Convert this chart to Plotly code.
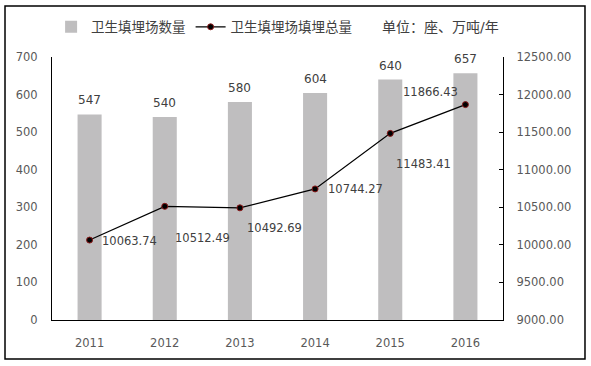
import plotly.graph_objects as go

years = ["2011", "2012", "2013", "2014", "2015", "2016"]
landfill_count = [547, 540, 580, 604, 640, 657]
landfill_volume = [10063.74, 10512.49, 10492.69, 10744.27, 11483.41, 11866.43]

count_name = "卫生填埋场数量"
volume_name = "卫生填埋场填埋总量"
unit_text = "单位：座、万吨/年"

# label offsets (pixels) for line labels
line_label_shift = [(40, -1), (38, -32), (35, -20), (40, 0), (33, -31), (-35, 13)]

FONT = "DejaVu Sans, Noto Sans CJK SC, sans-serif"
TXT = "#404040"

fig = go.Figure()
fig.add_trace(go.Bar(
    x=years, y=landfill_count, name=count_name,
    marker=dict(color="#bfbebf", line=dict(width=0)),
    yaxis="y",
))
fig.add_trace(go.Scatter(
    x=years, y=landfill_volume, name=volume_name, yaxis="y2",
    mode="lines+markers",
    line=dict(color="#000000", width=1.2),
    marker=dict(color="#000000", size=6, line=dict(color="#8b1a1a", width=1)),
))

annotations = []
for i, v in enumerate(landfill_count):
    annotations.append(dict(x=i, y=v, xref="x", yref="y", text=str(v),
                            showarrow=False, yshift=14,
                            font=dict(family=FONT, size=12, color=TXT)))
for i, (v, (dx, dy)) in enumerate(zip(landfill_volume, line_label_shift)):
    annotations.append(dict(x=i, y=v, xref="x", yref="y2", text=f"{v:.2f}",
                            showarrow=False, xshift=dx, yshift=dy,
                            font=dict(family=FONT, size=11.5, color=TXT)))
annotations.append(dict(x=0.995, y=1.114, xref="paper", yref="paper", text=unit_text,
                        showarrow=False, xanchor="right", yanchor="middle",
                        font=dict(family=FONT, size=14, color=TXT)))

fig.update_layout(
    width=591, height=366,
    margin=dict(l=52, r=88, t=57, b=46, autoexpand=False),
    paper_bgcolor="white", plot_bgcolor="white",
    font=dict(family=FONT, size=11, color="#595959"),
    showlegend=True,
    bargap=0.68,
    legend=dict(orientation="h", x=-0.002, y=1.114, xanchor="left", yanchor="middle",
                font=dict(family=FONT, size=13.5, color=TXT),
                bgcolor="rgba(0,0,0,0)"),
    xaxis=dict(type="category", categoryorder="array", categoryarray=years,
               range=[-0.5, len(years) - 0.5],
               showline=True, linecolor="#000000", linewidth=1.2,
               showgrid=False, ticks="", automargin=False, ticklabelstandoff=12,
               tickfont=dict(family=FONT, size=11.5, color="#595959")),
    yaxis=dict(range=[0, 700], dtick=100, showline=True, linecolor="#000000",
               linewidth=1.2, showgrid=False, ticks="", ticklabelstandoff=11,
               zeroline=False, automargin=False,
               tickfont=dict(family=FONT, size=11.5, color="#595959")),
    yaxis2=dict(range=[9000, 12500], dtick=500, overlaying="y", side="right",
                showline=True, linecolor="#000000", linewidth=1.2, showgrid=False,
                ticks="inside", ticklen=4, tickcolor="#000000", tickformat=".2f",
                zeroline=False, automargin=False, ticklabelstandoff=10,
                tickfont=dict(family=FONT, size=11.5, color="#595959")),
    annotations=annotations,
    shapes=[dict(type="rect", xref="paper", yref="paper",
                 x0=-0.1042, x1=1.1818, y0=-0.1483, y1=1.1939,
                 line=dict(color="#000000", width=1.5))],
)

fig.write_html("out.html", config={"displayModeBar": False},
               post_script="document.body.style.margin='0';")
